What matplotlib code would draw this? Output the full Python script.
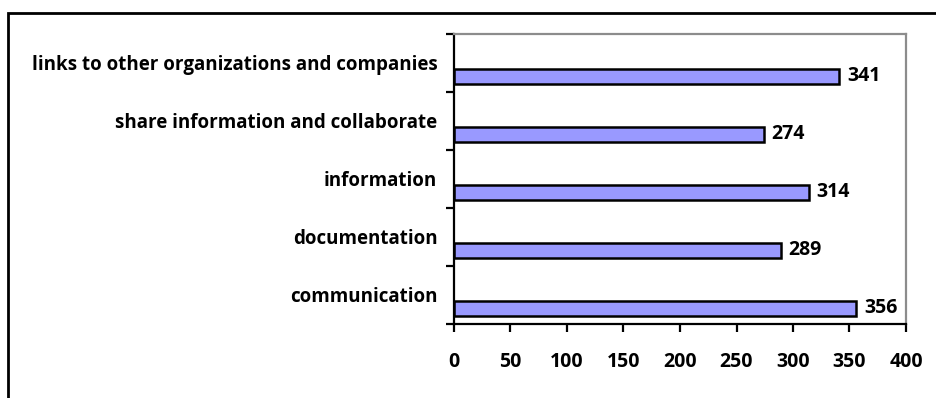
import matplotlib.pyplot as plt
from matplotlib.patches import Rectangle

categories = ["communication", "documentation", "information",
              "share information and collaborate",
              "links to other organizations and companies"]
values = [356, 289, 314, 274, 341]
xticks = [0, 50, 100, 150, 200, 250, 300, 350, 400]

plt.rcParams['font.family'] = ['Open Sans', 'DejaVu Sans']
plt.rcParams['font.weight'] = 'bold'

fig = plt.figure(figsize=(9.37, 3.98), dpi=100)
ax = fig.add_axes([454 / 937, 1 - 324 / 398, 452 / 937, 290 / 398])

# outer chart border (top/left visible, rest cut off)
fig.patches.append(Rectangle((8 / 937, -0.1), 1.2, 1 - 13 / 398 + 0.1,
                             transform=fig.transFigure, fill=False,
                             edgecolor="black", linewidth=2))

pos = list(range(len(categories)))
bar_pos = [p - 0.23 for p in pos]
bars = ax.barh(bar_pos, values, height=0.25, color="#9999FF",
               edgecolor="black", linewidth=1.8)
for b, v in zip(bar_pos, values):
    ax.text(v + 7, b, str(v), va="center", ha="left", fontsize=14,
            fontweight="bold")

ax.set_xlim(0, 400)
ax.set_ylim(-0.5, len(categories) - 0.5)
ax.set_xticks(xticks)
ax.set_xticklabels([str(t) for t in xticks], fontsize=14, fontweight="bold")
ax.set_yticks(pos)
ax.set_yticklabels(categories, fontsize=13.5, fontweight="bold")
ax.set_yticks([p - 0.5 for p in pos] + [len(categories) - 0.5], minor=True)
ax.tick_params(axis="y", which="major", length=0, pad=12)
ax.tick_params(axis="y", which="minor", length=6, width=1.6, direction="out")
ax.tick_params(axis="x", length=6, width=1.6, direction="out", pad=14)

for s in ["left", "bottom"]:
    ax.spines[s].set_color("black")
    ax.spines[s].set_linewidth(1.6)
for s in ["top", "right"]:
    ax.spines[s].set_color("#8c8c8c")
    ax.spines[s].set_linewidth(1.6)

fig.savefig("out.png", dpi=100)
